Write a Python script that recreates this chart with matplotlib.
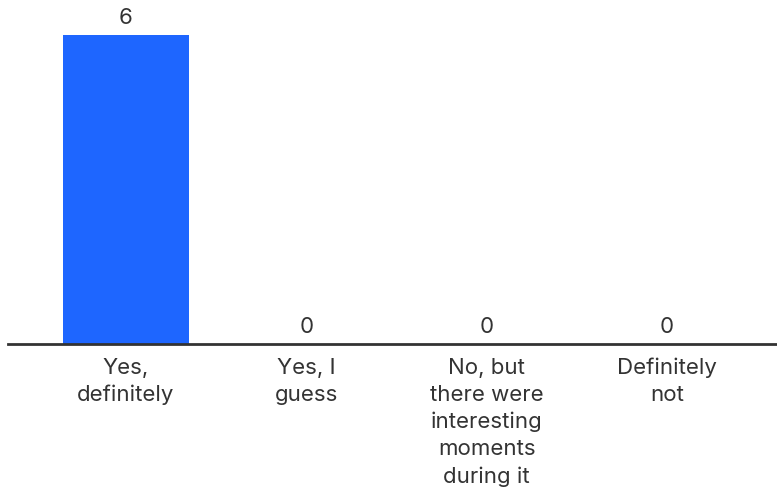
import matplotlib
matplotlib.use("Agg")
import matplotlib.pyplot as plt

categories = ["Yes,\ndefinitely", "Yes, I\nguess", "No, but\nthere were\ninteresting\nmoments\nduring it", "Definitely\nnot"]
values = [6, 0, 0, 0]

plt.rcParams['font.family'] = ['Inter', 'DejaVu Sans']
text_color = "#333333"

fig = plt.figure(figsize=(7.77, 4.97), dpi=100)
ax = fig.add_axes([8/777, 153/497, 769/777, 344/497])

x = list(range(len(categories)))
bars = ax.bar(x, values, width=0.7, color="#1E66FF", zorder=2)

for xi, v in zip(x, values):
    ax.annotate(str(v), (xi, v), xytext=(0, 5), textcoords="offset points",
                ha="center", va="bottom", fontsize=16, color=text_color)

ax.set_xlim(-0.654, 3.61)
ax.set_ylim(0, 6 * 344 / 309)
ax.set_xticks(x)
ax.set_xticklabels(categories, fontsize=16, color=text_color, linespacing=1.43, va="top")
ax.tick_params(axis="x", length=0, pad=10)
ax.set_yticks([])
for s in ["top", "right", "left"]:
    ax.spines[s].set_visible(False)
ax.spines["bottom"].set_color("#333333")
ax.spines["bottom"].set_linewidth(2)
ax.spines["bottom"].set_zorder(3)

fig.savefig("out.png", dpi=100, facecolor="white")
